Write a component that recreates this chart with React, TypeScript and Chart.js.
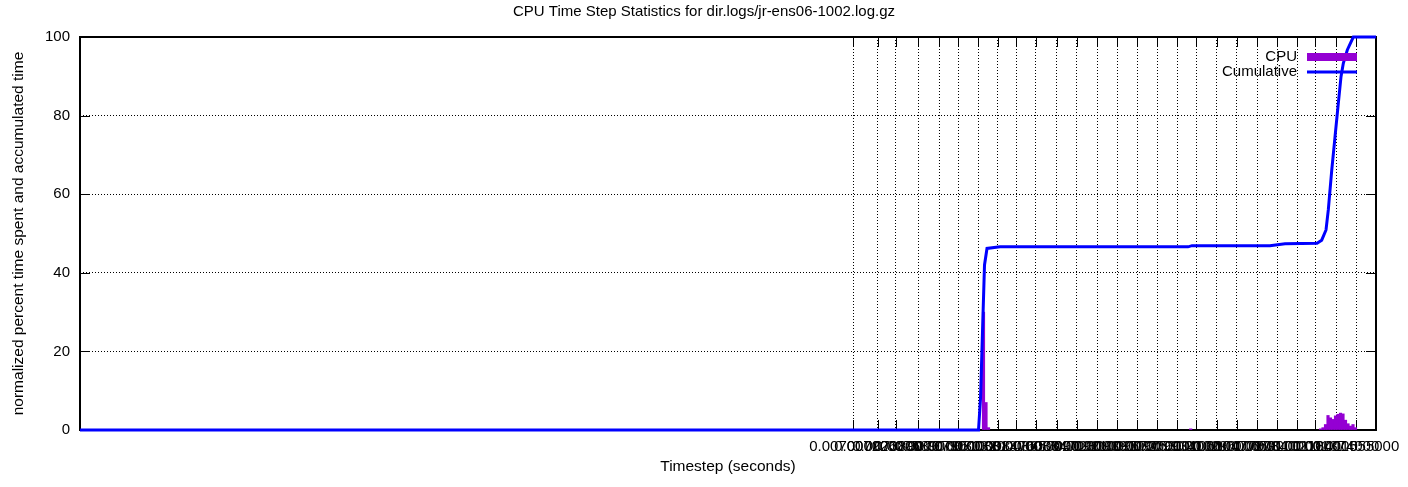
import React, { useEffect, useRef } from 'react';
import { Chart, registerables } from 'chart.js';

Chart.register(...registerables);

const TITLE = 'CPU Time Step Statistics for dir.logs/jr-ens06-1002.log.gz';
const X_TITLE = 'Timestep (seconds)';
const Y_TITLE = 'normalized percent time spent and accumulated time';

const X_MIN = 0;
const X_MAX = 0.011736;
const Y_MIN = 0;
const Y_MAX = 100;

const X_TICK_VALUES = [
  0.007, 0.007226, 0.007389, 0.007589, 0.007779, 0.007951, 0.008132, 0.008313,
  0.008476, 0.008657, 0.008847, 0.009028, 0.00921, 0.009391, 0.009572, 0.009753,
  0.009934, 0.010106, 0.010296, 0.010477, 0.010659, 0.01084, 0.011021, 0.011184,
  0.011374, 0.011555,
];
const X_TICK_LABELS = [
  '0.007000000', '0.007226000', '0.007389000', '0.007589000', '0.007779000',
  '0.007951000', '0.008132000', '0.008313000', '0.008476000', '0.008657000',
  '0.008847000', '0.009028000', '0.009210000', '0.009391000', '0.009572000',
  '0.009753000', '0.009934000', '0.010106000', '0.010296000', '0.010477000',
  '0.010659000', '0.010840000', '0.011021000', '0.011184000', '0.011374000',
  '0.011555000',
];

// CPU time per timestep bin (percent)
const CPU_X = [
  0.0081817, 0.0082044, 0.008227, 0.010058,
  0.0112335, 0.0112561, 0.0112788, 0.0113014, 0.011324, 0.0113467, 0.0113693,
  0.0113919, 0.0114146, 0.0114372, 0.0114599, 0.0114825, 0.0115051, 0.0115278,
  0.0115504,
];
const CPU_Y = [
  30, 7, 0.6, 0.3,
  0.3, 0.6, 1.4, 3.7, 3.1, 2.7, 3.6, 4.0, 4.3, 4.1, 2.5, 1.6, 1.0, 1.4, 0.6,
];

// Cumulative time (percent)
const CUM_X = [
  0, 0.0081365, 0.0081546, 0.0081727, 0.0081908, 0.0082134, 0.0083312, 0.0100336,
  0.0100698, 0.010776, 0.010912, 0.0112018, 0.0112443, 0.0112833, 0.0113041,
  0.0113349, 0.0113648, 0.0113947, 0.0114191, 0.01144, 0.0114762, 0.0115305,
  0.011736,
];
const CUM_Y = [
  0, 0, 8, 25, 42, 46.2, 46.6, 46.6,
  46.9, 46.9, 47.4, 47.5, 48.3, 50.9, 56,
  66, 74.6, 83.1, 89.9, 93.3, 96.7, 100,
  100,
];

const CPU_COLOR = '#9400d3';
const CUM_COLOR = '#0000ff';
const FONT = "'Liberation Sans', Arial, Helvetica, sans-serif";

const gnuplotPlugin = {
  id: 'gnuplotFrame',
  beforeDatasetsDraw(chart: any) {
    const { ctx, chartArea: a, scales } = chart;
    const TL = 10;
    ctx.save();
    ctx.strokeStyle = '#000';
    ctx.lineWidth = 1;
    ctx.beginPath();
    for (const t of scales.x.ticks) {
      const px = Math.round(scales.x.getPixelForValue(t.value)) + 0.5;
      ctx.moveTo(px, a.bottom);
      ctx.lineTo(px, a.bottom - TL);
      ctx.moveTo(px, a.top);
      ctx.lineTo(px, a.top + TL);
    }
    for (const t of scales.y.ticks) {
      if (t.value <= Y_MIN || t.value >= Y_MAX) continue;
      const py = Math.round(scales.y.getPixelForValue(t.value)) + 0.5;
      ctx.moveTo(a.left, py);
      ctx.lineTo(a.left + TL, py);
      ctx.moveTo(a.right, py);
      ctx.lineTo(a.right - TL, py);
    }
    ctx.stroke();
    ctx.lineWidth = 2;
    ctx.strokeRect(a.left, a.top, a.right - a.left, a.bottom - a.top);
    ctx.restore();
  },
  afterDraw(chart: any) {
    const { ctx, chartArea: a } = chart;
    const ds = chart.data.datasets;
    ctx.save();
    ctx.font = `15px ${FONT}`;
    ctx.fillStyle = '#000';
    ctx.textAlign = 'right';
    ctx.textBaseline = 'middle';
    const textRight = a.right - 79;
    const sx0 = a.right - 69;
    const sx1 = a.right - 19;
    const y0 = a.top + 20;
    const y1 = a.top + 35;
    ctx.fillText(ds[0].label, textRight, y0);
    ctx.fillText(ds[1].label, textRight, y1);
    ctx.fillStyle = CPU_COLOR;
    ctx.fillRect(sx0, y0 - 4, sx1 - sx0, 8);
    ctx.strokeStyle = CUM_COLOR;
    ctx.lineWidth = 3;
    ctx.beginPath();
    ctx.moveTo(sx0, y1);
    ctx.lineTo(sx1, y1);
    ctx.stroke();
    ctx.restore();
  },
};

export default function App() {
  const canvasRef = useRef<HTMLCanvasElement | null>(null);

  useEffect(() => {
    document.body.style.margin = '0';
    const canvas = canvasRef.current;
    if (!canvas) return;
    Chart.defaults.font.family = FONT;
    Chart.defaults.font.size = 15;
    Chart.defaults.color = '#000';

    const chart = new Chart(canvas, {
      type: 'bar',
      data: {
        datasets: [
          {
            type: 'bar',
            label: 'CPU',
            data: CPU_X.map((x, i) => ({ x, y: CPU_Y[i] })),
            backgroundColor: CPU_COLOR,
            borderWidth: 0,
            barThickness: 2.5,
            order: 1,
          } as any,
          {
            type: 'line',
            label: 'Cumulative',
            data: CUM_X.map((x, i) => ({ x, y: CUM_Y[i] })),
            borderColor: CUM_COLOR,
            backgroundColor: CUM_COLOR,
            borderWidth: 3,
            pointRadius: 0,
            tension: 0,
            fill: false,
            clip: 4,
            order: 0,
          } as any,
        ],
      },
      options: {
        responsive: false,
        animation: false,
        events: [],
        layout: { padding: 0 },
        plugins: {
          legend: { display: false },
          tooltip: { enabled: false },
          title: {
            display: true,
            text: TITLE,
            color: '#000',
            font: { size: 15, weight: 'normal', family: FONT },
            padding: { top: 3, bottom: 16 },
          },
        },
        scales: {
          x: {
            type: 'linear',
            min: X_MIN,
            max: X_MAX,
            offset: false,
            afterBuildTicks: (scale: any) => {
              scale.ticks = X_TICK_VALUES.map((v) => ({ value: v }));
            },
            afterFit: (scale: any) => {
              scale.height = 57;
              scale.paddingLeft = 0;
              scale.paddingRight = 32;
            },
            ticks: {
              autoSkip: false,
              maxRotation: 0,
              minRotation: 0,
              padding: 8,
              color: '#000',
              font: { size: 15 },
              callback: (_v: any, i: number) => X_TICK_LABELS[i],
            },
            grid: {
              offset: false,
              drawTicks: false,
              color: '#000',
              lineWidth: 1,
            },
            border: { display: false, dash: [1, 2] },
            title: {
              display: true,
              text: X_TITLE,
              color: '#000',
              font: { size: 15.5 },
              padding: { top: 0, bottom: 11 },
            },
          },
          y: {
            type: 'linear',
            min: Y_MIN,
            max: Y_MAX,
            afterFit: (scale: any) => {
              scale.width = 80;
            },
            ticks: {
              stepSize: 20,
              padding: 10,
              color: '#000',
              font: { size: 15 },
            },
            grid: {
              drawTicks: false,
              color: (c: any) =>
                c.tick && (c.tick.value <= Y_MIN || c.tick.value >= Y_MAX)
                  ? 'rgba(0,0,0,0)'
                  : '#000',
              lineWidth: 1,
            },
            border: { display: false, dash: [1, 2] },
            title: {
              display: true,
              text: Y_TITLE,
              color: '#000',
              font: { size: 15.5 },
              padding: { top: 9, bottom: 0 },
            },
          },
        },
      },
      plugins: [gnuplotPlugin],
    } as any);

    return () => chart.destroy();
  }, []);

  return (
    <div style={{ width: 1408, height: 487, background: '#fff' }}>
      <canvas
        ref={canvasRef}
        width={1408}
        height={487}
        style={{ display: 'block', width: 1408, height: 487 }}
      />
    </div>
  );
}
